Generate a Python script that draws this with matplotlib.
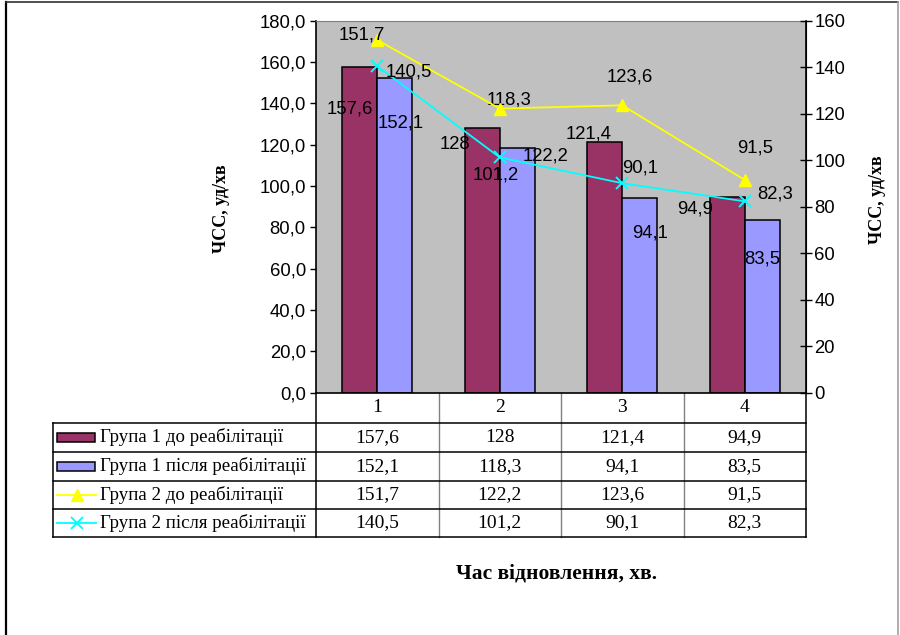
import matplotlib
matplotlib.use("Agg")
import matplotlib.pyplot as plt
from matplotlib.patches import Rectangle
from matplotlib.ticker import FuncFormatter

# recovery time (minutes) and heart rate per group
minutes = ['1', '2', '3', '4']
g1_before = [157.6, 128, 121.4, 94.9]
g1_after = [152.1, 118.3, 94.1, 83.5]
g2_before = [151.7, 122.2, 123.6, 91.5]
g2_after = [140.5, 101.2, 90.1, 82.3]

series_names = ['Група 1 до реабілітації', 'Група 1 після реабілітації',
                'Група 2 до реабілітації', 'Група 2 після реабілітації']

MAROON = '#993366'
LILAC = '#9999FF'
YELLOW = '#FFFF00'
CYAN = '#00FFFF'

SANS = 'Liberation Sans'
SERIF = 'Liberation Serif'
NUM_SIZE = 13.3
TABLE_SIZE = 14

# label offsets in pixels (dx right, dy down) from each mark
off_g1_before = [(-10, 42), (-27, 16), (-16, -8), (-32, 12)]
off_g1_after = [(6, 45), (-8, -48), (10, 35), (0, 39)]
off_g2_before = [(-15, -5), (46, 47), (8, -28), (10, -32)]
off_g2_after = [(32, 6), (-4, 18), (18, -15), (30, -7)]


def fmt(v):
    return ('%g' % v).replace('.', ',')


def label_marks(ax, xs, ys, offsets):
    for x, y, (dx, dy) in zip(xs, ys, offsets):
        ax.annotate(fmt(y), (x, y), xytext=(dx, -dy), textcoords='offset pixels',
                    ha='center', va='center', fontsize=NUM_SIZE, family=SANS, zorder=10)


W, H = 900, 635
fig = plt.figure(figsize=(9, 6.35), dpi=100)
fig.patch.set_facecolor('white')

L, R, T, B = 316, 806, 20.7, 392.7
ax = fig.add_axes([L / W, 1 - B / H, (R - L) / W, (B - T) / H])
ax.set_facecolor('#C0C0C0')

x = list(range(len(minutes)))
bw = 0.2857
xb1 = [i - bw / 2 for i in x]
xb2 = [i + bw / 2 for i in x]
ax.bar(xb1, g1_before, width=bw, color=MAROON, edgecolor='black', linewidth=1.1)
ax.bar(xb2, g1_after, width=bw, color=LILAC, edgecolor='black', linewidth=1.1)
ax.set_xlim(-0.5, 3.5)
ax.set_ylim(0, 180)
ax.set_yticks(range(0, 181, 20))
ax.yaxis.set_major_formatter(FuncFormatter(lambda v, p: ('%.1f' % v).replace('.', ',')))
ax.set_xticks([])
ax.tick_params(axis='y', direction='out', length=4.3, width=1, pad=3, labelsize=NUM_SIZE)
for lab in ax.get_yticklabels():
    lab.set_family(SANS)
ax.spines['top'].set_color('#808080')
ax.spines['left'].set_linewidth(1.2)
ax.spines['bottom'].set_linewidth(1.2)

ax2 = ax.twinx()
ax2.plot(x, g2_before, color=YELLOW, lw=1.3, marker='^', ms=8, mec=YELLOW, zorder=5)
ax2.plot(x, g2_after, color=CYAN, lw=1.3, marker='x', ms=8, mew=1.4, zorder=5)
ax2.set_ylim(0, 160)
ax2.set_yticks(range(0, 161, 20))
ax2.tick_params(axis='y', direction='inout', length=8, width=1, pad=2, labelsize=NUM_SIZE)
for lab in ax2.get_yticklabels():
    lab.set_family(SANS)
for s in ['top', 'left', 'bottom']:
    ax2.spines[s].set_visible(False)
ax2.spines['right'].set_linewidth(1.2)

label_marks(ax, xb1, g1_before, off_g1_before)
label_marks(ax, xb2, g1_after, off_g1_after)
label_marks(ax2, x, g2_before, off_g2_before)
label_marks(ax2, x, g2_after, off_g2_after)

# data table, legend keys and frame drawn in pixel coordinates
ov = fig.add_axes([0, 0, 1, 1], zorder=-1)
ov.set_xlim(0, W)
ov.set_ylim(H, 0)
ov.axis('off')

col_edges = [316, 438.5, 561, 683.5, 806]
row_edges = [423, 452, 480.5, 509, 537]
head_top, leg_left = 392.7, 53

for xe in col_edges[1:-1]:
    ov.plot([xe, xe], [head_top, row_edges[-1]], color='#808080', lw=1)
ov.plot([316, 316], [head_top, row_edges[-1]], color='black', lw=1.1)
ov.plot([806, 806], [head_top, row_edges[-1]], color='black', lw=1.1)
ov.plot([leg_left, leg_left], [row_edges[0], row_edges[-1]], color='black', lw=1.1)
for ye in row_edges:
    ov.plot([leg_left, 806], [ye, ye], color='black', lw=1.1)

for i, m in enumerate(minutes):
    cx = (col_edges[i] + col_edges[i + 1]) / 2
    ov.text(cx, 407, m, ha='center', va='center', family=SERIF, fontsize=TABLE_SIZE)

rows = [g1_before, g1_after, g2_before, g2_after]
for r, vals in enumerate(rows):
    cy = (row_edges[r] + row_edges[r + 1]) / 2
    for i, v in enumerate(vals):
        cx = (col_edges[i] + col_edges[i + 1]) / 2
        ov.text(cx, cy, fmt(v), ha='center', va='center', family=SERIF, fontsize=TABLE_SIZE)
    ov.text(100, cy, series_names[r], ha='left', va='center', family=SERIF, fontsize=13.6)

# legend keys
cys = [(row_edges[r] + row_edges[r + 1]) / 2 for r in range(4)]
ov.add_patch(Rectangle((57, cys[0] - 4.5), 38, 9, facecolor=MAROON, edgecolor='black', lw=1.1))
ov.add_patch(Rectangle((57, cys[1] - 4.5), 38, 9, facecolor=LILAC, edgecolor='black', lw=1.1))
ov.plot([57, 96], [cys[2], cys[2]], color=YELLOW, lw=1.3)
ov.plot([76.5], [cys[2]], marker='^', ms=8, color=YELLOW)
ov.plot([57, 96], [cys[3], cys[3]], color=CYAN, lw=1.3)
ov.plot([76.5], [cys[3]], marker='x', ms=8, mew=1.4, color=CYAN)

# axis titles
ov.text(557, 573, 'Час відновлення, хв.', ha='center', va='center', family=SERIF,
        fontsize=15.5, fontweight='bold')
ov.text(222, 209, 'ЧСС, уд/хв', ha='center', va='center', family=SERIF,
        fontsize=13, fontweight='bold', rotation=90)
ov.text(877, 200, 'ЧСС, уд/хв', ha='center', va='center', family=SERIF,
        fontsize=13, fontweight='bold', rotation=90)

# outer frame
ov.plot([6, 6], [2, H], color='black', lw=1.6)
ov.plot([6, 898], [2, 2], color='#303030', lw=1.2)
ov.plot([898, 898], [2, H], color='#A0A0A0', lw=1.2)

fig.savefig('out.png', dpi=100)
